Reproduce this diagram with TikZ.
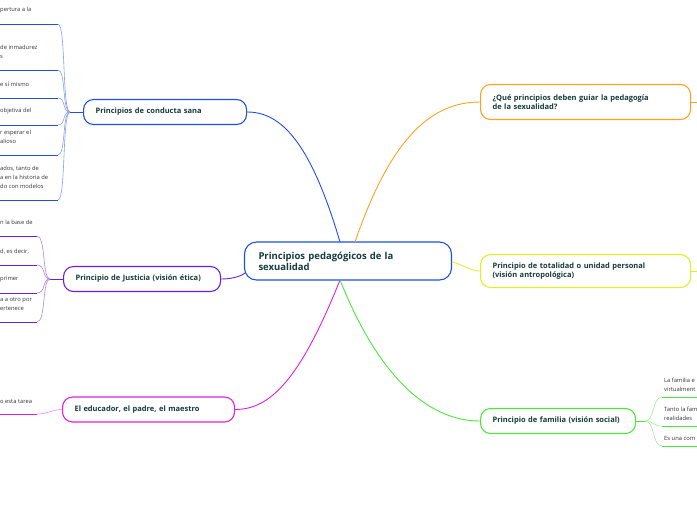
\documentclass[tikz,border=0pt]{standalone}
\usepackage{fontspec}
\setmainfont{Open Sans}
\usetikzlibrary{positioning}
\definecolor{cblue}{HTML}{1F4FE8}
\definecolor{cpurple}{HTML}{6A1FE0}
\definecolor{cmag}{HTML}{E020E0}
\definecolor{corange}{HTML}{FFA21F}
\definecolor{cyellow}{HTML}{DDF02A}
\definecolor{cgreen}{HTML}{4BE83A}
\definecolor{ctext}{HTML}{163B3B}
\tikzset{
  topic/.style 2 args={draw=#1,line width=1.1pt,rounded corners=10pt,fill=white,
    text=ctext,font=\fontsize{7.5}{9}\selectfont\bfseries,align=left,
    inner xsep=12pt,text width=#2-24pt,minimum height=25pt,anchor=west},
  central/.style={draw=#1,line width=1.1pt,rounded corners=12pt,fill=white,
    text=ctext,font=\fontsize{9.5}{11}\selectfont\bfseries,align=left,
    inner xsep=14pt,text width=179pt,minimum height=38pt},
  leaf/.style={font=\fontsize{5.8}{9}\selectfont,text=black!80,align=left,
    anchor=south west,inner sep=1pt},
  link/.style={draw=#1,line width=0.9pt},
  twig/.style={draw=#1!55,line width=0.6pt}
}
\begin{document}
\begin{tikzpicture}[x=1pt,y=-1pt]
  \useasboundingbox (0,0) rectangle (697,520);
  \clip (0,0) rectangle (697,520);

  \node[central=cblue] (main) at (348,261) {Principios pedagógicos de la\\ sexualidad};

  % left side
  \node[topic={cblue}{163pt}] (sana) at (83,112) {Principios de conducta sana};
  \node[topic={cpurple}{157pt}] (just) at (63,279) {Principio de Justicia (visión ética)};
  \node[topic={cmag}{172pt}] (educ) at (62,409.5) {El educador, el padre, el maestro};

  % right side
  \node[topic={corange}{210pt},minimum height=35pt] (que) at (480,102) {¿Qué principios deben guiar la pedagogía\\ de la sexualidad?};
  \node[topic={cyellow}{210pt},minimum height=33pt] (total) at (480,271) {Principio de totalidad o unidad personal\\ (visión antropológica)};
  \node[topic={cgreen}{155pt}] (fam) at (480,421) {Principio de familia (visión social)};

  % main connectors
  \draw[link=cblue] (340,242) .. controls (310,140) and (280,112) .. (sana.east);
  \draw[link=cpurple] (245,273) .. controls (240,277) and (230,279) .. (just.east);
  \draw[link=cmag] (340,280) .. controls (300,380) and (270,409.5) .. (educ.east);
  \draw[link=corange] (355,242) .. controls (390,140) and (430,102) .. (que.west);
  \draw[link=cyellow] (452,262) .. controls (462,264) and (470,271) .. (total.west);
  \draw[link=cgreen] (340,280) .. controls (380,380) and (430,421) .. (fam.west);
  \draw[link=corange] (que.east) -- (697,102);
  \draw[link=cyellow] (total.east) -- (697,271);

  % leaves of conducta sana
  \coordinate (js) at (70,112);
  \draw[link=cblue] (sana.west) -- (js);
  \foreach \y/\t in {24/{pertura a la},70/{de inmadurez\\s},98/{e sí mismo},125/{objetiva del},155/{r esperar el\\alioso},200/{ados, tanto de\\a en la historia de\\do con modelos}}{
    \draw[link=cblue] (0,\y) -- (58,\y);
    \draw[twig=cblue] (58,\y) .. controls (66,\y) and (62,112) .. (js);
    \node[leaf] at (-1,\y-10) {\t};
  }

  % leaves of justicia
  \coordinate (jj) at (50,279);
  \draw[link=cpurple] (just.west) -- (jj);
  \foreach \y/\t in {236/{n la base de},265/{d, es decir,},293/{primer},322/{a a otro por\\ertenece}}{
    \draw[link=cpurple] (0,\y) -- (37,\y);
    \draw[twig=cpurple] (37,\y) .. controls (46,\y) and (42,279) .. (jj);
    \node[leaf] at (-1,\y-10) {\t};
  }

  % leaf of educador
  \draw[link=cmag] (0,414) -- (37,414);
  \draw[twig=cmag] (37,414) .. controls (48,414) and (52,409.5) .. (educ.west);
  \node[leaf] at (-1,405) {o esta tarea};

  % leaves of familia
  \coordinate (jf) at (645,421);
  \draw[link=cgreen] (fam.east) -- (jf);
  \foreach \y/\t in {397/{La familia e\\virtualment},426/{Tanto la fam\\realidades},446/{Es una com}}{
    \draw[link=cgreen] (662,\y) -- (697,\y);
    \draw[twig=cgreen] (jf) .. controls (655,421) and (652,\y) .. (662,\y);
    \node[leaf] at (663,\y-4) {\t};
  }
\end{tikzpicture}
\end{document}
